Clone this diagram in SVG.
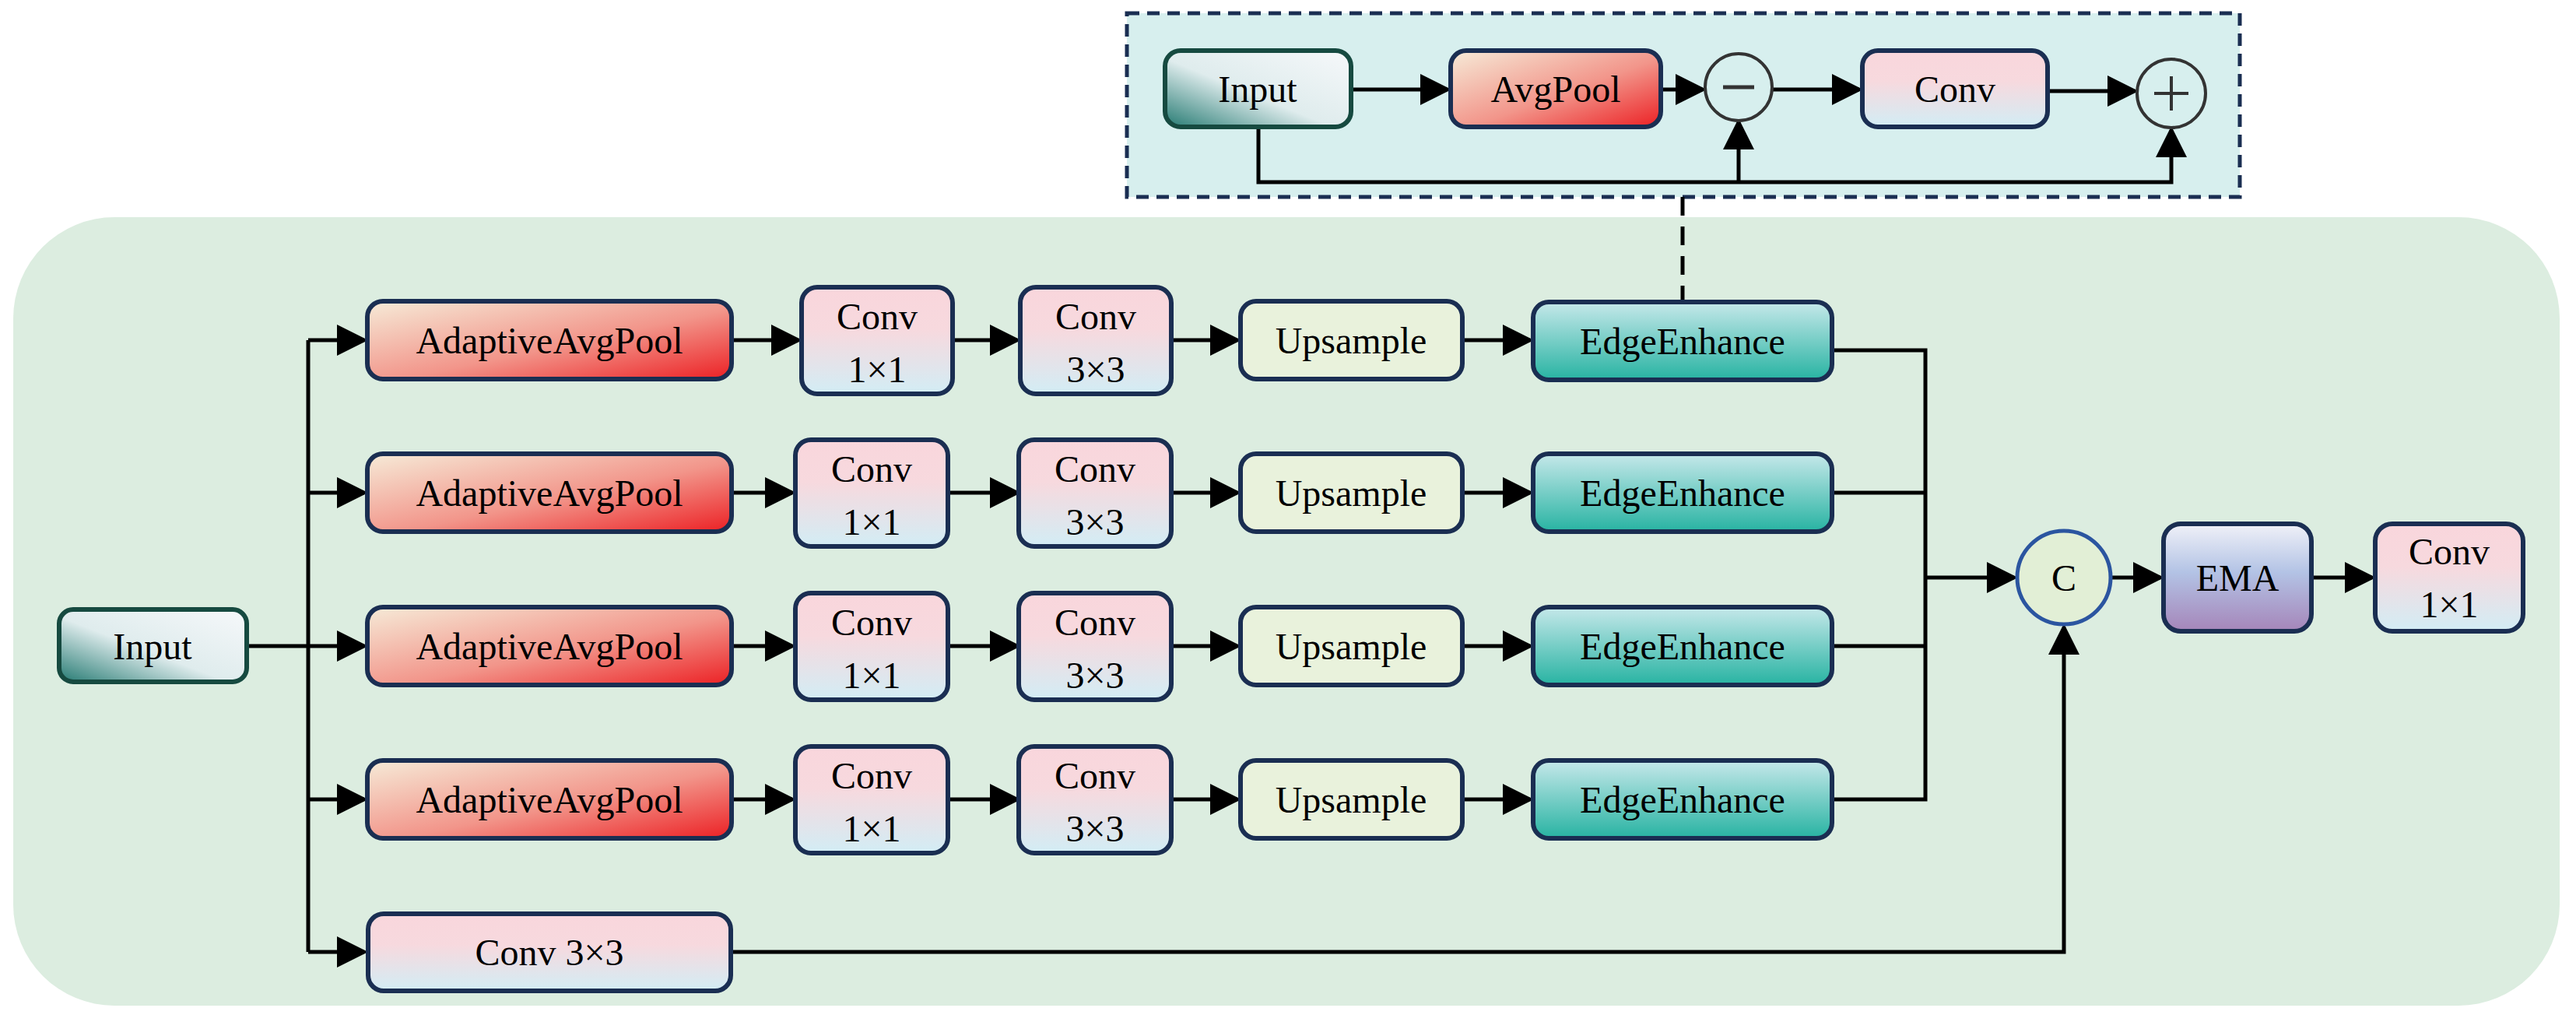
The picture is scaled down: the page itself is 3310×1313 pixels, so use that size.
<svg xmlns="http://www.w3.org/2000/svg" width="3310" height="1313" viewBox="0 0 3310 1313">
<style>
text{font-family:"Liberation Serif","Times New Roman",serif;font-size:48px;fill:#000;text-anchor:middle;dominant-baseline:central}
.b{stroke:#1a2e52;stroke-width:6}
.l{fill:none;stroke:#000;stroke-width:5}
</style>
<defs>
<marker id="a" markerWidth="8" markerHeight="8" refX="7" refY="4" orient="auto" markerUnits="strokeWidth"><path d="M0,0 L8,4 L0,8 z" fill="#000"/></marker>
<linearGradient id="gp" x1="0" y1="0" x2="1" y2="1"><stop offset="0" stop-color="#f6ebd8"/><stop offset="0.55" stop-color="#f2958a"/><stop offset="1" stop-color="#ec2024"/></linearGradient>
<linearGradient id="gc" x1="0" y1="0" x2="0" y2="1"><stop offset="0" stop-color="#f9d6dc"/><stop offset="0.4" stop-color="#f7d9de"/><stop offset="1" stop-color="#d2edf5"/></linearGradient>
<linearGradient id="ge" x1="0" y1="0" x2="0" y2="1"><stop offset="0" stop-color="#c6e8ea"/><stop offset="1" stop-color="#27b3a2"/></linearGradient>
<linearGradient id="gi" x1="0" y1="1" x2="1" y2="0"><stop offset="0" stop-color="#257a72"/><stop offset="0.45" stop-color="#dfeced"/><stop offset="1" stop-color="#f6f8fa"/></linearGradient>
<linearGradient id="gm" x1="0" y1="0" x2="0" y2="1"><stop offset="0" stop-color="#f0f1f8"/><stop offset="0.45" stop-color="#b3c3e5"/><stop offset="1" stop-color="#a585b9"/></linearGradient>
</defs>
<rect x="17" y="279" width="3272" height="1013" rx="130" fill="#dcede0"/>
<rect x="1448" y="17" width="1430" height="236" fill="#d7efee" stroke="#1a2e52" stroke-width="5" stroke-dasharray="16,10"/>
<g id="connectors">
<path class="l" d="M2162,253 V386" stroke-dasharray="24,14"/>
<path class="l" d="M1736,115 H1860" marker-end="url(#a)"/>
<path class="l" d="M2134,115 H2188" marker-end="url(#a)"/>
<path class="l" d="M2277,115 H2389" marker-end="url(#a)"/>
<path class="l" d="M2631,117 H2743" marker-end="url(#a)"/>
<path class="l" d="M1617,163 V234 H2790 V167" marker-end="url(#a)"/>
<path class="l" d="M2234,234 V157" marker-end="url(#a)"/>
<path class="l" d="M317,830 H468" marker-end="url(#a)"/>
<path class="l" d="M396,437 V1223"/>
<path class="l" d="M396,437 H468" marker-end="url(#a)"/>
<path class="l" d="M396,633 H468" marker-end="url(#a)"/>
<path class="l" d="M396,1027 H468" marker-end="url(#a)"/>
<path class="l" d="M396,1223 H468" marker-end="url(#a)"/>
<path class="l" d="M939,1223 H2652 V806" marker-end="url(#a)"/>
<path class="l" d="M940,437 H1026" marker-end="url(#a)"/>
<path class="l" d="M1224,437 H1307" marker-end="url(#a)"/>
<path class="l" d="M1505,437 H1590" marker-end="url(#a)"/>
<path class="l" d="M1879,437 H1966" marker-end="url(#a)"/>
<path class="l" d="M940,633 H1018" marker-end="url(#a)"/>
<path class="l" d="M1218,633 H1307" marker-end="url(#a)"/>
<path class="l" d="M1505,633 H1590" marker-end="url(#a)"/>
<path class="l" d="M1879,633 H1966" marker-end="url(#a)"/>
<path class="l" d="M940,830 H1018" marker-end="url(#a)"/>
<path class="l" d="M1218,830 H1307" marker-end="url(#a)"/>
<path class="l" d="M1505,830 H1590" marker-end="url(#a)"/>
<path class="l" d="M1879,830 H1966" marker-end="url(#a)"/>
<path class="l" d="M940,1027 H1018" marker-end="url(#a)"/>
<path class="l" d="M1218,1027 H1307" marker-end="url(#a)"/>
<path class="l" d="M1505,1027 H1590" marker-end="url(#a)"/>
<path class="l" d="M1879,1027 H1966" marker-end="url(#a)"/>
<path class="l" d="M2354,450 H2474 V1027 H2354 M2354,633 H2474 M2354,830 H2474"/>
<path class="l" d="M2474,742 H2588" marker-end="url(#a)"/>
<path class="l" d="M2712,742 H2776" marker-end="url(#a)"/>
<path class="l" d="M2970,742 H3048" marker-end="url(#a)"/>
</g>
<g id="top-input"><rect x="1497" y="65" width="239" height="98" rx="20" fill="url(#gi)" stroke="#164a40" stroke-width="6"/><text x="1616" y="114">Input</text></g>
<g id="top-avgpool"><rect x="1864" y="65" width="270" height="98" rx="20" fill="url(#gp)" class="b"/><text x="1999" y="114">AvgPool</text></g>
<g id="top-minus"><circle cx="2234" cy="112" r="43" fill="#d7efee" stroke="#333" stroke-width="4"/><path d="M2214,112 H2254" stroke="#333" stroke-width="5"/></g>
<g id="top-conv"><rect x="2393" y="65" width="238" height="98" rx="20" fill="url(#gc)" class="b"/><text x="2512" y="114">Conv</text></g>
<g id="top-plus"><circle cx="2790" cy="120" r="44" fill="#d7efee" stroke="#333" stroke-width="4"/><path d="M2768,120 H2812 M2790,98 V142" stroke="#333" stroke-width="4"/></g>

<g id="input"><rect x="76" y="783" width="241" height="93" rx="18" fill="url(#gi)" stroke="#164a40" stroke-width="6"/><text x="196" y="830">Input</text></g>

<g id="pool1"><rect x="472" y="387" width="468" height="100" rx="20" fill="url(#gp)" class="b"/><text x="706" y="437">AdaptiveAvgPool</text></g>
<g id="pool2"><rect x="472" y="583" width="468" height="100" rx="20" fill="url(#gp)" class="b"/><text x="706" y="633">AdaptiveAvgPool</text></g>
<g id="pool3"><rect x="472" y="780" width="468" height="100" rx="20" fill="url(#gp)" class="b"/><text x="706" y="830">AdaptiveAvgPool</text></g>
<g id="pool4"><rect x="472" y="977" width="468" height="100" rx="20" fill="url(#gp)" class="b"/><text x="706" y="1027">AdaptiveAvgPool</text></g>

<g id="c11a"><rect x="1030" y="369" width="194" height="137" rx="20" fill="url(#gc)" class="b"/><text x="1127" y="406">Conv</text><text x="1127" y="474">1×1</text></g>
<g id="c11b"><rect x="1022" y="565" width="196" height="137" rx="20" fill="url(#gc)" class="b"/><text x="1120" y="602">Conv</text><text x="1120" y="670">1×1</text></g>
<g id="c11c"><rect x="1022" y="762" width="196" height="137" rx="20" fill="url(#gc)" class="b"/><text x="1120" y="799">Conv</text><text x="1120" y="867">1×1</text></g>
<g id="c11d"><rect x="1022" y="959" width="196" height="137" rx="20" fill="url(#gc)" class="b"/><text x="1120" y="996">Conv</text><text x="1120" y="1064">1×1</text></g>

<g id="c33a"><rect x="1311" y="369" width="194" height="137" rx="20" fill="url(#gc)" class="b"/><text x="1408" y="406">Conv</text><text x="1408" y="474">3×3</text></g>
<g id="c33b"><rect x="1309" y="565" width="196" height="137" rx="20" fill="url(#gc)" class="b"/><text x="1407" y="602">Conv</text><text x="1407" y="670">3×3</text></g>
<g id="c33c"><rect x="1309" y="762" width="196" height="137" rx="20" fill="url(#gc)" class="b"/><text x="1407" y="799">Conv</text><text x="1407" y="867">3×3</text></g>
<g id="c33d"><rect x="1309" y="959" width="196" height="137" rx="20" fill="url(#gc)" class="b"/><text x="1407" y="996">Conv</text><text x="1407" y="1064">3×3</text></g>

<g id="up1"><rect x="1594" y="387" width="285" height="100" rx="20" fill="#e9f2dc" class="b"/><text x="1736" y="437">Upsample</text></g>
<g id="up2"><rect x="1594" y="583" width="285" height="100" rx="20" fill="#e9f2dc" class="b"/><text x="1736" y="633">Upsample</text></g>
<g id="up3"><rect x="1594" y="780" width="285" height="100" rx="20" fill="#e9f2dc" class="b"/><text x="1736" y="830">Upsample</text></g>
<g id="up4"><rect x="1594" y="977" width="285" height="100" rx="20" fill="#e9f2dc" class="b"/><text x="1736" y="1027">Upsample</text></g>

<g id="ee1"><rect x="1970" y="388" width="384" height="100" rx="20" fill="url(#ge)" class="b"/><text x="2162" y="438">EdgeEnhance</text></g>
<g id="ee2"><rect x="1970" y="583" width="384" height="100" rx="20" fill="url(#ge)" class="b"/><text x="2162" y="633">EdgeEnhance</text></g>
<g id="ee3"><rect x="1970" y="780" width="384" height="100" rx="20" fill="url(#ge)" class="b"/><text x="2162" y="830">EdgeEnhance</text></g>
<g id="ee4"><rect x="1970" y="977" width="384" height="100" rx="20" fill="url(#ge)" class="b"/><text x="2162" y="1027">EdgeEnhance</text></g>

<g id="conv33"><rect x="473" y="1174" width="466" height="99" rx="20" fill="url(#gc)" class="b"/><text x="706" y="1223">Conv 3×3</text></g>

<g id="concat"><circle cx="2652" cy="742" r="60" fill="#e2efd6" stroke="#2b55a0" stroke-width="5"/><text x="2652" y="742" font-size="56">C</text></g>
<g id="ema"><rect x="2780" y="673" width="190" height="138" rx="22" fill="url(#gm)" class="b"/><text x="2875" y="742">EMA</text></g>
<g id="conv-out"><rect x="3052" y="673" width="190" height="138" rx="22" fill="url(#gc)" class="b"/><text x="3147" y="708">Conv</text><text x="3147" y="776">1×1</text></g>
</svg>
